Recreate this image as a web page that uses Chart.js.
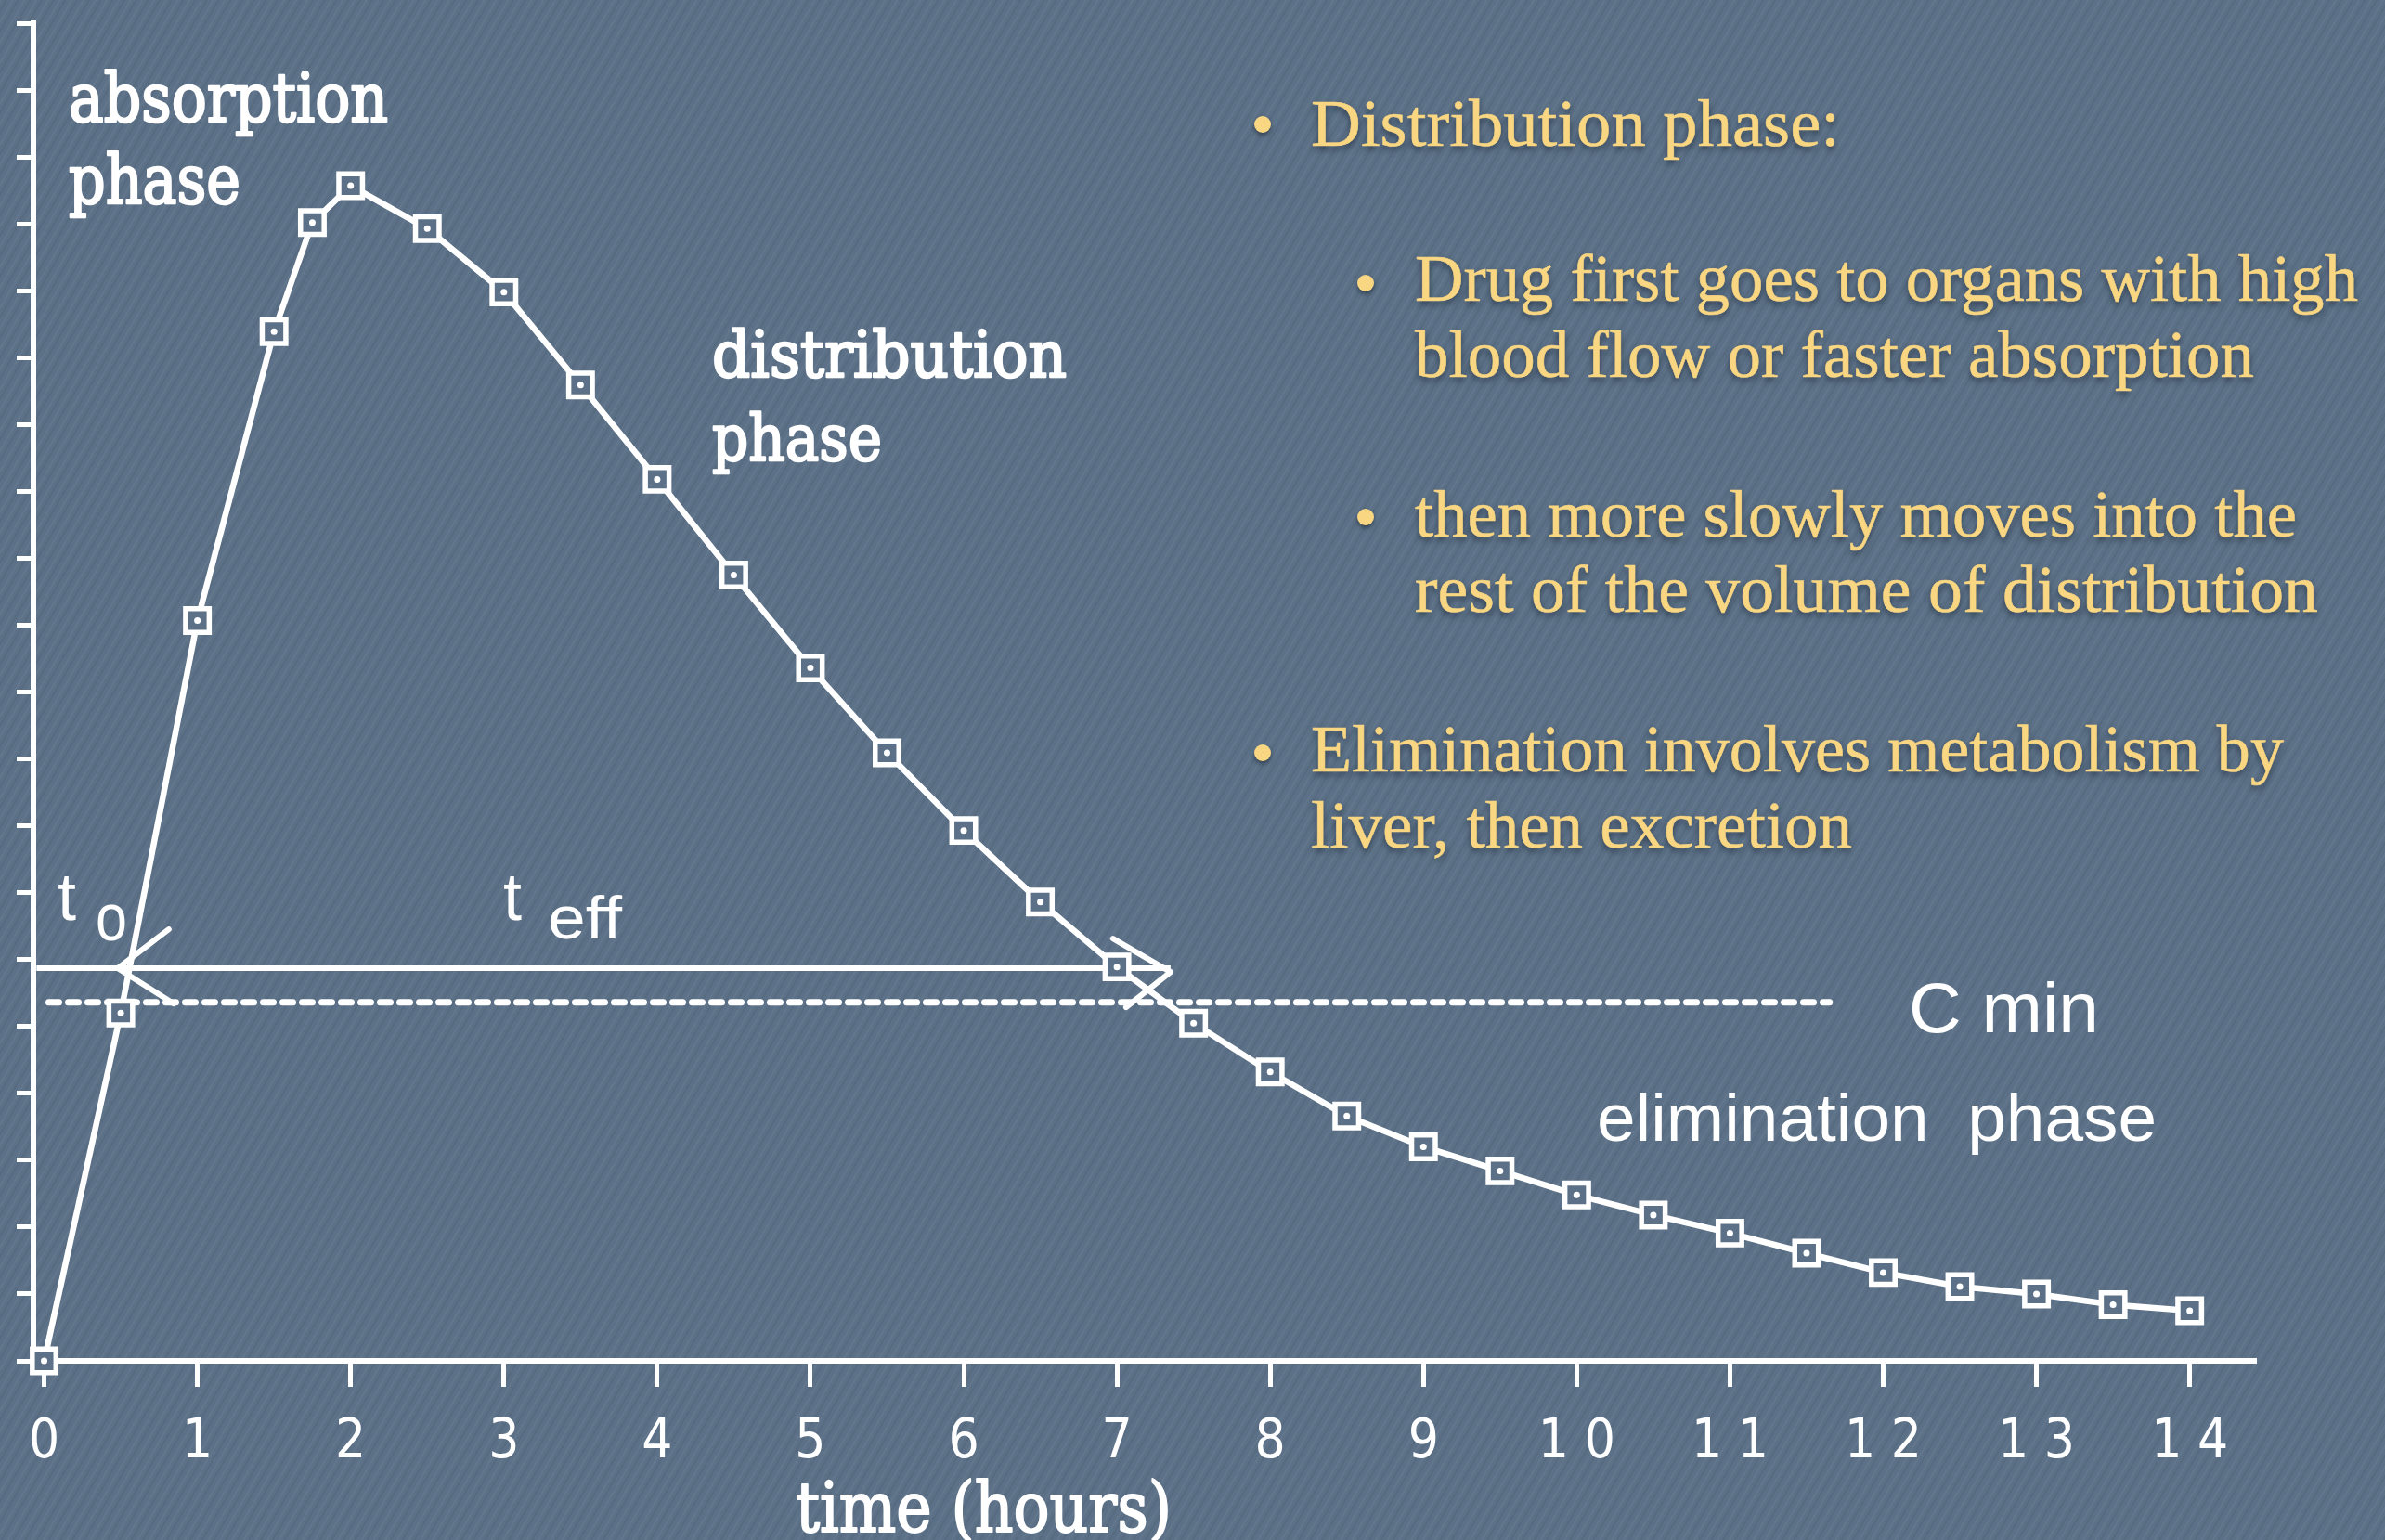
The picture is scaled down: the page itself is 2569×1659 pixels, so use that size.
<!DOCTYPE html>
<html>
<head>
<meta charset="utf-8">
<script src="https://cdn.jsdelivr.net/npm/chart.js@4.4.1/dist/chart.umd.min.js"></script>
<style>
  html, body { margin: 0; padding: 0; }
  body {
    width: 2569px; height: 1659px; overflow: hidden; position: relative;
    background-color: #5c7187;
    background-image: repeating-linear-gradient(120deg,
      rgba(255,255,255,0.04) 0px, rgba(255,255,255,0.04) 2px,
      rgba(0,0,0,0) 2px, rgba(0,0,0,0) 5px,
      rgba(0,0,0,0.05) 5px, rgba(0,0,0,0.05) 7px,
      rgba(0,0,0,0) 7px, rgba(0,0,0,0) 11px);
  }
  #chart { position: absolute; left: 0; top: 0; }
  .notes { position: absolute; left: 0; top: 0; font-family: "Liberation Serif", "DejaVu Serif", serif; color: #f9d682; }
  .line { position: absolute; white-space: nowrap; font-size: 72px; line-height: 1; transform-origin: 0 0;
          text-shadow: 0 4px 7px rgba(25,35,50,0.65); -webkit-text-stroke: 0.6px #f9d682; }
  .dot { position: absolute; width: 18px; height: 18px; border-radius: 50%; background: #f9d682;
         box-shadow: 0 3px 5px rgba(25,35,50,0.6); }
</style>
</head>
<body>
<canvas id="chart" width="2569" height="1659"></canvas>
<div class="notes">
  <div class="dot" style="left:1351px; top:125px"></div>
  <div class="line" data-w="570" style="left:1412px; top:97px">Distribution phase:</div>
  <div class="dot" style="left:1462px; top:296px"></div>
  <div class="line" data-w="1016" style="left:1524px; top:264px">Drug first goes to organs with high</div>
  <div class="line" data-w="904" style="left:1524px; top:346px">blood flow or faster absorption</div>
  <div class="dot" style="left:1462px; top:548px"></div>
  <div class="line" data-w="950" style="left:1524px; top:518px">then more slowly moves into the</div>
  <div class="line" data-w="973" style="left:1524px; top:599px">rest of the volume of distribution</div>
  <div class="dot" style="left:1351px; top:802px"></div>
  <div class="line" data-w="1048" style="left:1412px; top:771px">Elimination involves metabolism by</div>
  <div class="line" data-w="583" style="left:1412px; top:853px">liver, then excretion</div>
</div>
<script>
// plasma concentration curve
const hours = [0, 0.5, 1, 1.5, 1.75, 2, 2.5, 3, 3.5, 4, 4.5, 5, 5.5, 6, 6.5, 7,
  7.5, 8, 8.5, 9, 9.5, 10, 10.5, 11, 11.5, 12, 12.5, 13, 13.5, 14];
const concentration = [0, 5.2, 11.07, 15.39, 17.02, 17.57, 16.93, 15.98, 14.59, 13.18, 11.75,
  10.36, 9.09, 7.93, 6.86, 5.89, 5.05, 4.32, 3.66, 3.2, 2.84, 2.48, 2.18, 1.91, 1.61,
  1.32, 1.11, 1.0, 0.84, 0.75];
const xTickLabels = ["0", "1", "2", "3", "4", "5", "6", "7", "8", "9", "10", "11", "12", "13", "14"];

// C min threshold (dashed) and effective-time arrow
const cMin = 5.36;
const cMinFrom = 0.03;
const cMinTo = 11.65;
const tEffLevel = 5.87;
const tEffFrom = -0.05;
const tZero = 0.48;
const tEffEnd = 7.35;

const WHITE = "#ffffff";
const BG = "#5c7187";

// squeeze text into a given width so it looks like the old lettering
function fitText(ctx, text, x, y, w, font, weight) {
  ctx.font = font;
  const m = ctx.measureText(text).width;
  ctx.save();
  ctx.translate(x, y);
  ctx.scale(w ? w / m : 1, 1);
  ctx.fillText(text, 0, 0);
  if (weight) {
    ctx.lineWidth = weight;
    ctx.strokeText(text, 0, 0);
  }
  ctx.restore();
}

const annotations = {
  id: "annotations",
  afterDatasetsDraw(chart) {
    const ctx = chart.ctx;
    const xs = chart.scales.x, ys = chart.scales.y;
    ctx.save();
    ctx.strokeStyle = WHITE;
    ctx.lineWidth = 6;
    ctx.lineCap = "round";
    ctx.lineJoin = "round";
    // arrow heads on t_eff line
    const yy = ys.getPixelForValue(tEffLevel);
    const xl = xs.getPixelForValue(tZero);
    const xr = xs.getPixelForValue(tEffEnd);
    ctx.beginPath();
    ctx.moveTo(xl + 55, yy - 42);
    ctx.lineTo(xl, yy);
    ctx.lineTo(xl + 60, yy + 38);
    ctx.moveTo(xr - 62, yy - 32);
    ctx.lineTo(xr, yy + 4);
    ctx.lineTo(xr - 48, yy + 42);
    ctx.stroke();

    ctx.fillStyle = WHITE;
    ctx.textBaseline = "alphabetic";
    const serif = "\"DejaVu Serif\", \"Liberation Serif\", serif";
    const sans = "\"Liberation Sans\", \"DejaVu Sans\", sans-serif";
    fitText(ctx, "absorption", 74, 131, 344, "72px " + serif, 2.5);
    fitText(ctx, "phase", 74, 219, 185, "72px " + serif, 2.5);
    fitText(ctx, "distribution", 767, 406, 382, "70px " + serif, 2.5);
    fitText(ctx, "phase", 767, 496, 183, "70px " + serif, 2.5);
    fitText(ctx, "elimination  phase", 1720, 1229, 603, "72px " + sans);
    fitText(ctx, "C min", 2056, 1112, 205, "76px " + sans);
    fitText(ctx, "t", 62, 991, 20, "72px " + sans);
    fitText(ctx, "o", 103, 1013, 34, "72px " + sans);
    fitText(ctx, "t", 542, 991, 20, "72px " + sans);
    fitText(ctx, "eff", 590, 1011, 80, "64px " + sans);
    fitText(ctx, "time (hours)", 857, 1650, 405, "74px " + serif, 2);
    ctx.restore();
  }
};

const ctx = document.getElementById("chart").getContext("2d");
const curve = hours.map((h, i) => ({ x: h, y: concentration[i] }));

new Chart(ctx, {
  type: "line",
  data: {
    datasets: [
      {
        // centre dots of the square markers
        data: curve,
        showLine: false,
        pointStyle: "circle",
        pointRadius: 3.5,
        pointBackgroundColor: WHITE,
        pointBorderWidth: 0,
        clip: false,
        order: 0
      },
      {
        data: curve,
        borderColor: WHITE,
        borderWidth: 6.5,
        tension: 0,
        pointStyle: "rect",
        pointRadius: 18,
        pointBackgroundColor: BG,
        pointBorderColor: WHITE,
        pointBorderWidth: 5.5,
        clip: false,
        order: 1
      },
      {
        data: [{ x: cMinFrom, y: cMin }, { x: cMinTo, y: cMin }],
        borderColor: WHITE,
        borderWidth: 7,
        borderDash: [11, 10],
        borderCapStyle: "round",
        pointRadius: 0,
        order: 2
      },
      {
        data: [{ x: tEffFrom, y: tEffLevel }, { x: tEffEnd, y: tEffLevel }],
        borderColor: WHITE,
        borderWidth: 6,
        pointRadius: 0,
        clip: false,
        order: 2
      }
    ]
  },
  options: {
    responsive: false,
    animation: false,
    devicePixelRatio: 1,
    layout: { padding: { top: 25, right: 141, left: 0, bottom: 0 } },
    plugins: {
      legend: { display: false },
      tooltip: { enabled: false }
    },
    scales: {
      x: {
        type: "linear",
        min: -0.07,
        max: 14.42,
        afterFit: (scale) => { scale.height = 193; },
        border: { display: true, color: WHITE, width: 6 },
        grid: { drawOnChartArea: false, drawTicks: true, tickLength: 28, color: WHITE, lineWidth: 5 },
        ticks: {
          stepSize: 1,
          includeBounds: false,
          autoSkip: false,
          maxRotation: 0,
          padding: 26,
          color: WHITE,
          font: { family: "\"Liberation Sans Narrow\", \"DejaVu Sans Condensed\", Roboto, sans-serif", size: 58 },
          // two-digit labels are spread out in the original
          callback: (v) => (xTickLabels[v] !== undefined ? xTickLabels[v].split("").join(" ") : "")
        }
      },
      y: {
        min: 0,
        max: 20,
        afterFit: (scale) => { scale.width = 36; },
        border: { display: true, color: WHITE, width: 6 },
        grid: { drawOnChartArea: false, drawTicks: true, tickLength: 18, color: WHITE, lineWidth: 5 },
        ticks: { stepSize: 1, display: false }
      }
    }
  },
  plugins: [annotations]
});

// stretch/squeeze bullet lines to the widths in the slide
document.querySelectorAll(".line").forEach((el) => {
  const w = el.getBoundingClientRect().width;
  el.style.transform = "scaleX(" + (el.dataset.w / w) + ")";
});
</script>
</body>
</html>
